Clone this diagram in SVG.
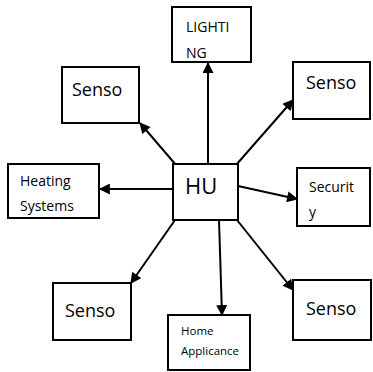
<svg xmlns="http://www.w3.org/2000/svg" width="373" height="372" viewBox="0 0 373 372">
<style>
.box{fill:#fff;stroke:#000;stroke-width:2}
.t{font-family:"Open Sans","Liberation Sans",sans-serif;fill:#000}
.big{font-size:18px}
.mid{font-size:14px}
.sm{font-size:11.5px}
.hub{font-size:22px}
.c{stroke:#000;stroke-width:2;fill:none;marker-end:url(#ah)}
</style>
<defs>
<marker id="ah" viewBox="0 0 10 10" refX="9" refY="5" markerWidth="6" markerHeight="5.5" orient="auto" markerUnits="strokeWidth">
<path d="M0,0 L10,5 L0,10 z" fill="#000"/>
</marker>
</defs>
<rect width="373" height="372" fill="#fff"/>
<g id="connectors">
<line class="c" x1="208" y1="164" x2="208" y2="63"/>
<line class="c" x1="176" y1="165" x2="140" y2="123"/>
<line class="c" x1="236" y1="165" x2="293" y2="100"/>
<line class="c" x1="173" y1="189" x2="100" y2="189"/>
<line class="c" x1="238" y1="186" x2="297" y2="199"/>
<line class="c" x1="175" y1="220" x2="131" y2="283"/>
<line class="c" x1="219" y1="220" x2="222" y2="315"/>
<line class="c" x1="237" y1="220" x2="293" y2="290"/>
</g>
<g id="lighting">
<rect class="box" x="172" y="7" width="79" height="55"/>
<text class="t mid" x="186" y="32">LIGHTI</text>
<text class="t mid" x="186" y="58">NG</text>
</g>
<g id="sensor-tl">
<rect class="box" x="62" y="67" width="77" height="56"/>
<text class="t big" x="72" y="96">Senso</text>
</g>
<g id="sensor-tr">
<rect class="box" x="293" y="62" width="77" height="57"/>
<text class="t big" x="306" y="89">Senso</text>
</g>
<g id="heating">
<rect class="box" x="8" y="164" width="91" height="54"/>
<text class="t mid" x="20" y="186">Heating</text>
<text class="t mid" x="20" y="211">Systems</text>
</g>
<g id="hub">
<rect class="box" x="173" y="164" width="65" height="56"/>
<text class="t hub" x="185" y="194">HU</text>
</g>
<g id="security">
<rect class="box" x="297" y="168" width="73" height="58"/>
<text class="t mid" x="309" y="192">Securit</text>
<text class="t mid" x="309" y="217">y</text>
</g>
<g id="sensor-bl">
<rect class="box" x="53" y="283" width="78" height="57"/>
<text class="t big" x="65" y="317">Senso</text>
</g>
<g id="home">
<rect class="box" x="168" y="315" width="82" height="55"/>
<text class="t sm" x="181" y="335">Home</text>
<text class="t sm" x="181" y="355">Applicance</text>
</g>
<g id="sensor-br">
<rect class="box" x="293" y="280" width="78" height="60"/>
<text class="t big" x="306" y="315">Senso</text>
</g>
</svg>
